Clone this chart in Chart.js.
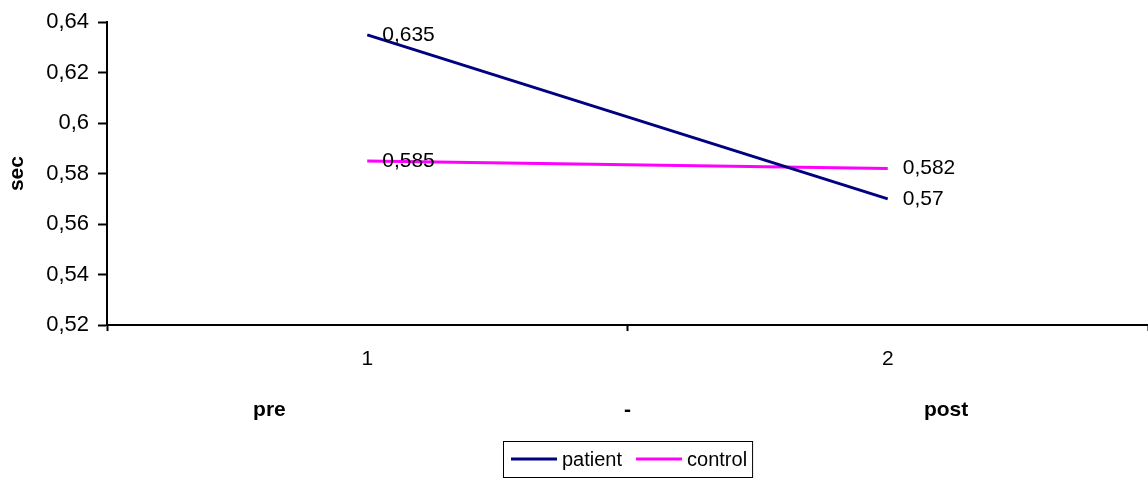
<!DOCTYPE html>
<html>
<head>
<meta charset="utf-8">
<script src="https://cdn.jsdelivr.net/npm/chart.js@4"></script>
<style>
  html, body { margin: 0; padding: 0; background: #fff; }
  #wrap { width: 1148px; height: 478px; position: relative; }
</style>
</head>
<body>
<div id="wrap"><canvas id="chart"></canvas></div>
<script>
// data
const categories = ['1', '2'];
const groupLabels = ['pre', '-', 'post'];
const patientValues = [0.635, 0.57];
const controlValues = [0.585, 0.582];
const yTicks = [0.52, 0.54, 0.56, 0.58, 0.6, 0.62, 0.64];

const FONT = '"Liberation Sans", Arial, sans-serif';
const fmt = v => String(Math.round(v * 1000) / 1000).replace('.', ',');

// value labels to the right of each point
const valueLabels = {
    id: 'valueLabels',
    afterDatasetsDraw(chart) {
        const ctx = chart.ctx;
        ctx.save();
        ctx.font = '21px ' + FONT;
        ctx.fillStyle = '#000';
        ctx.textAlign = 'left';
        ctx.textBaseline = 'middle';
        chart.data.datasets.forEach((ds, i) => {
            chart.getDatasetMeta(i).data.forEach((pt, j) => {
                ctx.fillText(fmt(ds.data[j]), pt.x + 15, pt.y);
            });
        });
        ctx.restore();
    }
};

// second row of category labels (pre / - / post)
const groupRow = {
    id: 'groupRow',
    afterDraw(chart) {
        const ctx = chart.ctx;
        const area = chart.chartArea;
        const pos = [0.156, 0.5, 0.806];
        ctx.save();
        ctx.font = 'bold 21px ' + FONT;
        ctx.fillStyle = '#000';
        ctx.textAlign = 'center';
        ctx.textBaseline = 'middle';
        groupLabels.forEach((t, i) => {
            ctx.fillText(t, area.left + pos[i] * (area.right - area.left), area.bottom + 85);
        });
        ctx.restore();
    }
};

// boxed legend under the chart
const boxLegend = {
    id: 'boxLegend',
    afterDraw(chart) {
        const ctx = chart.ctx;
        const area = chart.chartArea;
        ctx.save();
        ctx.font = '20px ' + FONT;
        const sample = 46, gap = 5, between = 14, padL = 8, padR = 5;
        const items = chart.data.datasets.map(ds => ({
            label: ds.label, color: ds.borderColor, w: ctx.measureText(ds.label).width
        }));
        let total = padL + padR;
        items.forEach((it, i) => { total += sample + gap + it.w + (i ? between : 0); });
        const top = 441, h = 36;
        let x = Math.round((area.left + area.right) / 2 - total / 2);
        ctx.strokeStyle = '#000';
        ctx.lineWidth = 1;
        ctx.strokeRect(x + 0.5, top + 0.5, total, h);
        const cy = top + h / 2;
        x += padL;
        ctx.textBaseline = 'middle';
        ctx.fillStyle = '#000';
        items.forEach((it, i) => {
            if (i) x += between;
            ctx.strokeStyle = it.color;
            ctx.lineWidth = 3;
            ctx.beginPath();
            ctx.moveTo(x, cy);
            ctx.lineTo(x + sample, cy);
            ctx.stroke();
            x += sample + gap;
            ctx.fillText(it.label, x, cy + 1);
            x += it.w;
        });
        ctx.restore();
    }
};

new Chart(document.getElementById('chart'), {
    type: 'line',
    data: {
        labels: categories,
        datasets: [
            {
                label: 'patient',
                data: patientValues,
                borderColor: '#000080',
                backgroundColor: '#000080',
                borderWidth: 3,
                pointRadius: 0,
                tension: 0
            },
            {
                label: 'control',
                data: controlValues,
                borderColor: '#FF00FF',
                backgroundColor: '#FF00FF',
                borderWidth: 3,
                pointRadius: 0,
                tension: 0
            }
        ]
    },
    options: {
        responsive: true,
        maintainAspectRatio: false,
        animation: false,
        layout: {
            padding: { top: 20, bottom: 45, left: 0, right: 0 }
        },
        plugins: {
            legend: { display: false },
            tooltip: { enabled: false }
        },
        scales: {
            x: {
                offset: true,
                grid: {
                    offset: true,
                    drawOnChartArea: false,
                    drawTicks: true,
                    tickLength: 6,
                    tickWidth: 2,
                    tickColor: '#000'
                },
                border: { display: true, color: '#000', width: 2 },
                ticks: {
                    color: '#000',
                    padding: 16,
                    maxRotation: 0,
                    font: { family: FONT, size: 21 }
                },
                afterFit(scale) { scale.height = 108; }
            },
            y: {
                min: yTicks[0],
                max: yTicks[yTicks.length - 1],
                afterBuildTicks(scale) {
                    scale.ticks = yTicks.map(v => ({ value: v }));
                },
                grid: {
                    drawOnChartArea: false,
                    drawTicks: true,
                    tickLength: 9,
                    tickWidth: 2,
                    tickColor: '#000'
                },
                border: { display: true, color: '#000', width: 2 },
                ticks: {
                    color: '#000',
                    padding: 9,
                    font: { family: FONT, size: 22 },
                    callback: v => fmt(v)
                },
                title: {
                    display: true,
                    text: 'sec',
                    color: '#000',
                    padding: { top: 5, bottom: 0 },
                    font: { family: FONT, size: 21, weight: 'bold' }
                },
                afterFit(scale) { scale.width = 107; }
            }
        }
    },
    plugins: [valueLabels, groupRow, boxLegend]
});
</script>
</body>
</html>
